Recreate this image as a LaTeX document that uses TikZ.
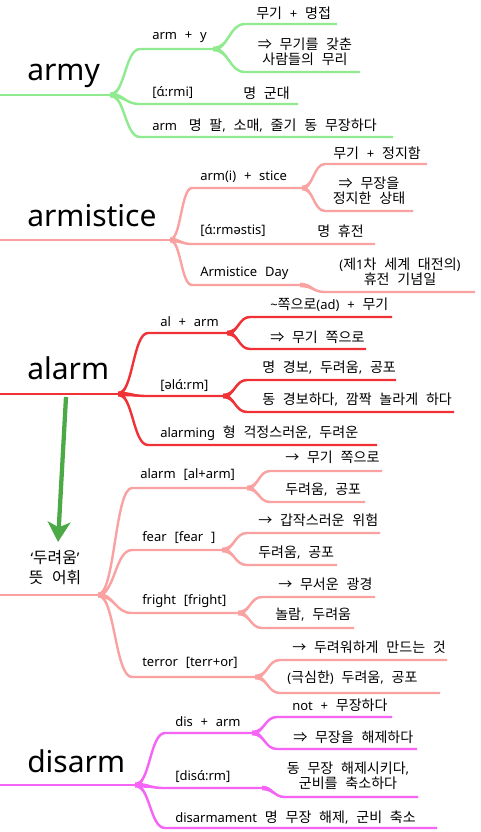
\documentclass[tikz,border=0pt]{standalone}
\usepackage{fontspec}
\usetikzlibrary{calc,arrows.meta}
\setmainfont{Noto Sans}[WordSpace=2.3]
\newfontfamily\krfont{Noto Sans CJK KR}[Scale=1.08,WordSpace=2.3]
\newfontfamily\latfont{Noto Sans}[WordSpace=2.3]
\XeTeXinterchartokenstate=1
\newXeTeXintercharclass\krcls
\newcount\hgc
\hgc="AC00
\loop\ifnum\hgc<"D7A4 \XeTeXcharclass\hgc=\krcls \advance\hgc by 1 \repeat
\XeTeXcharclass"2192=\krcls
\XeTeXcharclass"21D2=\krcls
\XeTeXcharclass"2018=0
\XeTeXcharclass"2019=0
\XeTeXinterchartoks 0 \krcls = {\krfont}
\XeTeXinterchartoks 4095 \krcls = {\krfont}
\XeTeXinterchartoks \krcls 0 = {\latfont}
\XeTeXinterchartoks \krcls 4095 = {\latfont}
\definecolor{colG}{RGB}{144,235,144}
\definecolor{colP}{RGB}{250,162,162}
\definecolor{colR}{RGB}{240,50,55}
\definecolor{colM}{RGB}{245,100,245}
\definecolor{colA}{RGB}{76,170,70}
\newcommand\limb[4]{%
  \path ($(#2)!0.5!(#3)$) coordinate (lmid);
  \draw[#1,lw] (#2) .. controls (lmid |- #2) and (lmid |- #3) .. (#3) -- (#4);
  \fill[#1] ($(#2)+(0,-2.3)$) .. controls ($(lmid |- #2)+(0,-2.3)$) and ($(lmid |- #3)+(0,-0.7)$) .. ($(#3)+(0,-0.7)$) -- ($(#3)+(0,0.7)$) .. controls ($(lmid |- #3)+(0,0.7)$) and ($(lmid |- #2)+(0,2.3)$) .. ($(#2)+(0,2.3)$) -- cycle;}
\newcommand\lm[5]{\coordinate (#2c) at (#4); \coordinate (#2e) at (#5); \limb{#1}{#3}{#2c}{#2e}}
\begin{document}
\begin{tikzpicture}[x=0.75pt,y=-0.75pt,
  lw/.style={line width=1.8pt},
  tk/.style={line width=1.5pt},
  lab/.style={inner sep=0pt,anchor=west,font=\fontsize{9.75pt}{11.5pt}\selectfont},
  lab2/.style={inner sep=0pt,align=center,font=\fontsize{9.75pt}{11.25pt}\selectfont},
  ttl/.style={inner sep=0pt,anchor=base west,font=\fontsize{22.5pt}{26pt}\selectfont}]
\useasboundingbox (0,0) rectangle (480,832);
\fill[white] (0,0) rectangle (480,832);
% ---------- army
\node[ttl] (army) at (27,80) {army};
\coordinate (ya) at (0,95); \coordinate (yb) at (110,95);
\draw[colG,tk] (ya) -- (yb);
\lm{colG}{y1}{yb}{140,49}{213,49}
\lm{colG}{y1u}{y1e}{245,24}{337,24}
\lm{colG}{y1d}{y1e}{245,72}{360,72}
\lm{colG}{y2}{yb}{140,104}{298,104}
\lm{colG}{y3}{yb}{140,137}{393,137}
\node[lab] (y1t) at (152,37) {arm + y};
\node[lab] (y1ut) at (256,13) {무기 + 명접};
\node[lab2] (y1dt) at (305,52) {⇒ 무기를 갖춘\\사람들의 무리};
\node[lab] (y2t) at (152,93) {[ɑ́:rmi]};
\node[lab] (y2m) at (243,93) {명 군대};
\node[lab] (y3t) at (152,126) {arm\hspace{0.9em}명 팔, 소매, 줄기 동 무장하다};
% ---------- armistice
\node[ttl] (armis) at (27,226) {armistice};
\coordinate (sa) at (0,240); \coordinate (sb) at (170,240);
\draw[colP,tk] (sa) -- (sb);
\lm{colP}{s1}{sb}{192,188}{302,188}
\lm{colP}{s1u}{s1e}{325,164}{427,164}
\lm{colP}{s1d}{s1e}{325,211}{413,211}
\lm{colP}{s2}{sb}{192,244}{375,244}
\lm{colP}{s3}{sb}{192,285}{300,285}
\lm{colP}{s3d}{s3e}{325,292}{475,292}
\node[lab] (s1t) at (200,177) {arm(i) + stice};
\node[lab] (s1ut) at (333,153) {무기 + 정지함};
\node[lab2] (s1dt) at (369,191) {⇒ 무장을\\정지한 상태};
\node[lab] (s2t) at (200,231) {[ɑ́:rməstis]};
\node[lab] (s2m) at (317,231) {명 휴전};
\node[lab] (s3t) at (200,273) {Armistice Day};
\node[lab2] (s3dt) at (400,272) {(제1차 세계 대전의)\\휴전 기념일};
% ---------- alarm
\node[ttl] (alarm) at (27,379) {alarm};
\coordinate (aa) at (0,394); \coordinate (ab) at (118,394);
\draw[colR,tk] (aa) -- (ab);
\lm{colR}{a1}{ab}{148,333}{227,333}
\lm{colR}{a1u}{a1e}{250,317}{392,317}
\lm{colR}{a1d}{a1e}{250,349}{366,349}
\lm{colR}{a2}{ab}{148,396}{223,396}
\lm{colR}{a2u}{a2e}{247,380}{396,380}
\lm{colR}{a2d}{a2e}{247,412}{454,412}
\lm{colR}{a3}{ab}{148,445}{377,445}
\node[lab] (a1t) at (160,322) {al + arm};
\node[lab] (a1ut) at (270,305) {\textasciitilde{}쪽으로(ad) + 무기};
\node[lab] (a1dt) at (270,337) {⇒ 무기 쪽으로};
\node[lab] (a2t) at (160,386) {[əlɑ́:rm]};
\node[lab] (a2ut) at (262,368) {명 경보, 두려움, 공포};
\node[lab] (a2dt) at (262,400) {동 경보하다, 깜짝 놀라게 하다};
\node[lab] (a3t) at (160,433) {alarming 형 걱정스러운, 두려운};
% ---------- arrow
\coordinate (ars) at (66,397); \coordinate (are) at (58,542);
\draw[colA,line width=3.2pt,-{Stealth[length=15pt,width=17pt,inset=4pt]}] (ars) -- (are);
% ---------- fear group
\node[inner sep=0pt,align=center,font=\fontsize{11pt}{15pt}\selectfont] (ft) at (55,568) {‘두려움’\\뜻 어휘};
\coordinate (fa) at (0,595); \coordinate (fb) at (98,595);
\draw[colP,tk] (fa) -- (fb);
\lm{colP}{f1}{fb}{132,488}{247,488}
\lm{colP}{f1u}{f1e}{270,471}{382,471}
\lm{colP}{f1d}{f1e}{270,502}{365,502}
\lm{colP}{f2}{fb}{132,550}{222,550}
\lm{colP}{f2u}{f2e}{247,533}{380,533}
\lm{colP}{f2d}{f2e}{247,565}{337,565}
\lm{colP}{f3}{fb}{132,613}{238,613}
\lm{colP}{f3u}{f3e}{262,597}{375,597}
\lm{colP}{f3d}{f3e}{262,628}{354,628}
\lm{colP}{f4}{fb}{132,677}{255,677}
\lm{colP}{f4u}{f4e}{280,660}{447,660}
\lm{colP}{f4d}{f4e}{280,693}{440,693}
\node[lab] (f1t) at (140,475) {alarm [al+arm]};
\node[lab] (f1ut) at (285,457) {→ 무기 쪽으로};
\node[lab] (f1dt) at (285,490) {두려움, 공포};
\node[lab] (f2t) at (142,538) {fear [fear ]};
\node[lab] (f2ut) at (258,520) {→ 갑작스러운 위험};
\node[lab] (f2dt) at (258,553) {두려움, 공포};
\node[lab] (f3t) at (142,601) {fright [fright]};
\node[lab] (f3ut) at (278,584) {→ 무서운 광경};
\node[lab] (f3dt) at (275,615) {놀람, 두려움};
\node[lab] (f4t) at (142,663) {terror [terr+or]};
\node[lab] (f4ut) at (292,647) {→ 두려워하게 만드는 것};
\node[lab] (f4dt) at (287,678) {(극심한) 두려움, 공포};
% ---------- disarm
\node[ttl] (disarm) at (27,772) {disarm};
\coordinate (da) at (0,785); \coordinate (db) at (135,785);
\draw[colM,tk] (da) -- (db);
\lm{colM}{d1}{db}{165,733}{252,733}
\lm{colM}{d1u}{d1e}{277,717}{392,717}
\lm{colM}{d1d}{d1e}{277,749}{417,749}
\lm{colM}{d2}{db}{165,788}{262,788}
\lm{colM}{d2d}{d2e}{285,797}{418,797}
\lm{colM}{d3}{db}{165,828}{437,828}
\node[lab] (d1t) at (175,722) {dis + arm};
\node[lab] (d1ut) at (292,705) {not + 무장하다};
\node[lab] (d1dt) at (293,737) {⇒ 무장을 해제하다};
\node[lab] (d2t) at (175,777) {[disɑ́:rm]};
\node[lab2] (d2dt) at (348,776) {동 무장 해제시키다,\\군비를 축소하다};
\node[lab] (d3t) at (175,817) {disarmament 명 무장 해제, 군비 축소};
\end{tikzpicture}
\end{document}
